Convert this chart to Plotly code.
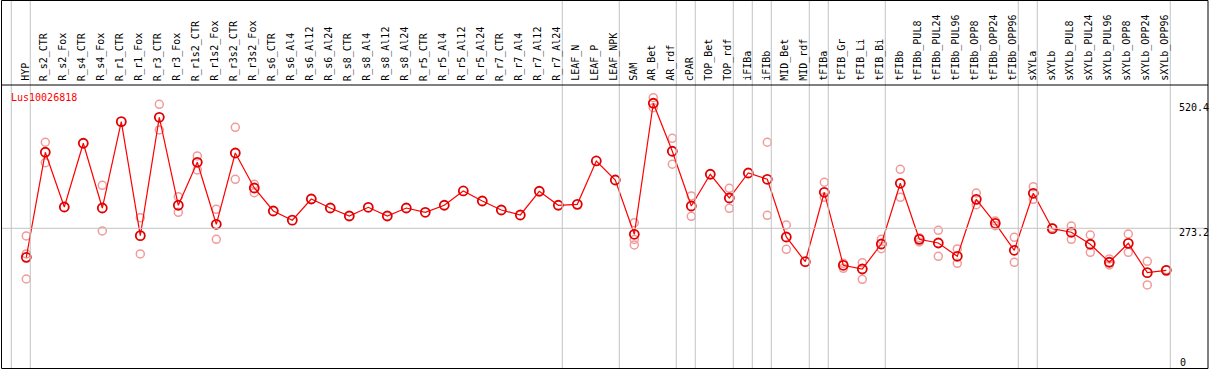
import plotly.graph_objects as go

# ---------------- data ----------------
categories = [
    "HYP", "R_s2_CTR", "R_s2_Fox", "R_s4_CTR", "R_s4_Fox", "R_r1_CTR", "R_r1_Fox",
    "R_r3_CTR", "R_r3_Fox", "R_r1s2_CTR", "R_r1s2_Fox", "R_r3s2_CTR", "R_r3s2_Fox",
    "R_s6_CTR", "R_s6_Al4", "R_s6_Al12", "R_s6_Al24", "R_s8_CTR", "R_s8_Al4",
    "R_s8_Al12", "R_s8_Al24", "R_r5_CTR", "R_r5_Al4", "R_r5_Al12", "R_r5_Al24",
    "R_r7_CTR", "R_r7_Al4", "R_r7_Al12", "R_r7_Al24", "LEAF_N", "LEAF_P", "LEAF_NPK",
    "SAM", "AR_Bet", "AR_rdf", "cPAR", "TOP_Bet", "TOP_rdf", "iFIBa", "iFIBb",
    "MID_Bet", "MID_rdf", "tFIBa", "tFIB_Gr", "tFIB_Li", "tFIB_Bi", "tFIBb",
    "tFIBb_PUL8", "tFIBb_PUL24", "tFIBb_PUL96", "tFIBb_OPP8", "tFIBb_OPP24",
    "tFIBb_OPP96", "sXYLa", "sXYLb", "sXYLb_PUL8", "sXYLb_PUL24", "sXYLb_PUL96",
    "sXYLb_OPP8", "sXYLb_OPP24", "sXYLb_OPP96",
]

mean_values = [
    215.8, 423.5, 315.3, 441.3, 313.3, 484.0, 258.6, 492.7, 318.7, 403.7, 281.1,
    422.1, 352.9, 307.4, 289.2, 331.1, 313.3, 297.5, 314.7, 297.5, 313.3, 304.8,
    318.7, 347.0, 327.2, 309.4, 299.5, 346.4, 318.7, 320.6, 406.3, 368.7, 261.3,
    520.4, 425.5, 317.3, 380.0, 333.1, 382.5, 370.1, 256.0, 207.1, 344.4, 200.0,
    192.7, 242.1, 362.2, 251.4, 244.1, 217.8, 330.5, 283.1, 229.7, 342.4, 272.4,
    265.3, 241.6, 206.0, 243.5, 185.4, 190.1,
]

replicate_values = [
    [258.0, 222.4, 172.9], [443.3, 402.9], [], [], [358.2, 267.9], [], [294.2, 222.4],
    [518.4, 467.6], [335.7, 304.8], [416.2, 388.5], [310.8, 251.4], [472.9, 370.1],
    [360.2, 343.6], [], [], [], [], [], [], [], [], [], [], [], [], [], [], [], [],
    [], [], [], [284.3, 251.0, 240.2], [531.5, 511.7], [451.2, 399.8], [337.1, 296.9],
    [], [352.3, 312.7], [], [443.3, 298.9], [279.7, 231.7], [], [364.2, 334.5],
    [204.0, 194.1], [205.2, 172.3], [251.4, 232.9], [389.9, 334.5], [254.6, 246.1],
    [269.2, 217.8], [232.3, 204.0], [343.0, 319.9], [287.6, 278.3], [255.4, 206.0],
    [355.5, 330.5], [274.4], [277.7, 251.4], [259.9, 225.7], [212.5, 200.6],
    [261.9, 225.7], [207.9, 161.1], [191.3],
]

gene_name = "Lus10026818"
y_tick_values = [0, 273.2, 520.4]
y_tick_labels = ["0", "273.2", "520.4"]
# index of the last category of each group (group separators)
group_ends = [-1, 0, 28, 31, 34, 35, 37, 38, 39, 41, 42, 45, 52, 53, 60]

# ---------------- figure ----------------
W, H = 1209, 370
idx = list(range(len(categories)))

rep_x, rep_y = [], []
for i, reps in enumerate(replicate_values):
    for v in reps:
        rep_x.append(i)
        rep_y.append(v)

fig = go.Figure()
fig.add_trace(go.Scatter(
    x=rep_x, y=rep_y, mode="markers", hoverinfo="skip",
    marker=dict(symbol="circle-open", size=8, color="#F29A9A", line=dict(width=1.5, color="#F29A9A")),
    showlegend=False,
))
fig.add_trace(go.Scatter(
    x=idx, y=mean_values, mode="lines+markers", text=categories,
    line=dict(color="#FF0000", width=1.2),
    marker=dict(symbol="circle-open", size=9, color="#E00000", line=dict(width=1.8, color="#E00000")),
    showlegend=False,
))

px_per_cat = 19.0
x0_px = 26.3
x_min = (0 - x0_px) / px_per_cat
x_max = (W - x0_px) / px_per_cat
y_min, y_max = -7.02, 724.6

def py(p):
    return 1 - p / H

def pxp(p):
    return p / W

shapes = []
# group separators (grey)
for g in group_ends:
    shapes.append(dict(type="line", xref="x", yref="paper", x0=g + 0.21, x1=g + 0.21,
                       y0=py(368), y1=1, line=dict(color="#C4C4C4", width=1)))
# horizontal reference line
shapes.append(dict(type="line", xref="paper", yref="y", x0=pxp(1), x1=pxp(1208),
                   y0=y_tick_values[1], y1=y_tick_values[1], line=dict(color="#C4C4C4", width=1)))
# black frame + header separator
shapes.append(dict(type="rect", xref="paper", yref="paper", x0=pxp(1.5), x1=pxp(1208),
                   y0=py(368.5), y1=py(0.5), line=dict(color="black", width=1)))
shapes.append(dict(type="line", xref="paper", yref="paper", x0=pxp(1.5), x1=pxp(1208),
                   y0=py(85), y1=py(85), line=dict(color="black", width=1.2)))

mono = "DejaVu Sans Mono"
annotations = []
for i, c in enumerate(categories):
    annotations.append(dict(x=i - 0.08, y=py(83), xref="x", yref="paper", text=c,
                            textangle=-90, showarrow=False, xanchor="center", yanchor="bottom",
                            font=dict(family=mono, size=10, color="black")))
annotations.append(dict(x=pxp(9), y=py(97), xref="paper", yref="paper", text=gene_name,
                        showarrow=False, xanchor="left", yanchor="middle",
                        font=dict(family=mono, size=10, color="#FF0000")))
for v, t in zip(y_tick_values, y_tick_labels):
    if v > 0:
        annotations.append(dict(x=pxp(1177), y=v, xref="paper", yref="y", text=t, yshift=-4,
                                showarrow=False, xanchor="left", yanchor="middle",
                                font=dict(family=mono, size=10, color="black")))
    else:
        annotations.append(dict(x=pxp(1178), y=py(362), xref="paper", yref="paper", text=t,
                                showarrow=False, xanchor="left", yanchor="middle",
                                font=dict(family=mono, size=10, color="black")))

fig.update_layout(
    width=W, height=H, margin=dict(l=0, r=0, t=0, b=0),
    paper_bgcolor="white", plot_bgcolor="white",
    xaxis=dict(range=[x_min, x_max], visible=False, fixedrange=True),
    yaxis=dict(range=[y_min, y_max], visible=False, fixedrange=True),
    shapes=shapes, annotations=annotations, showlegend=False,
)

fig.write_html(
    "out.html",
    config={"displayModeBar": False},
    post_script="document.body.style.margin='0px';document.body.style.overflow='hidden';",
)
